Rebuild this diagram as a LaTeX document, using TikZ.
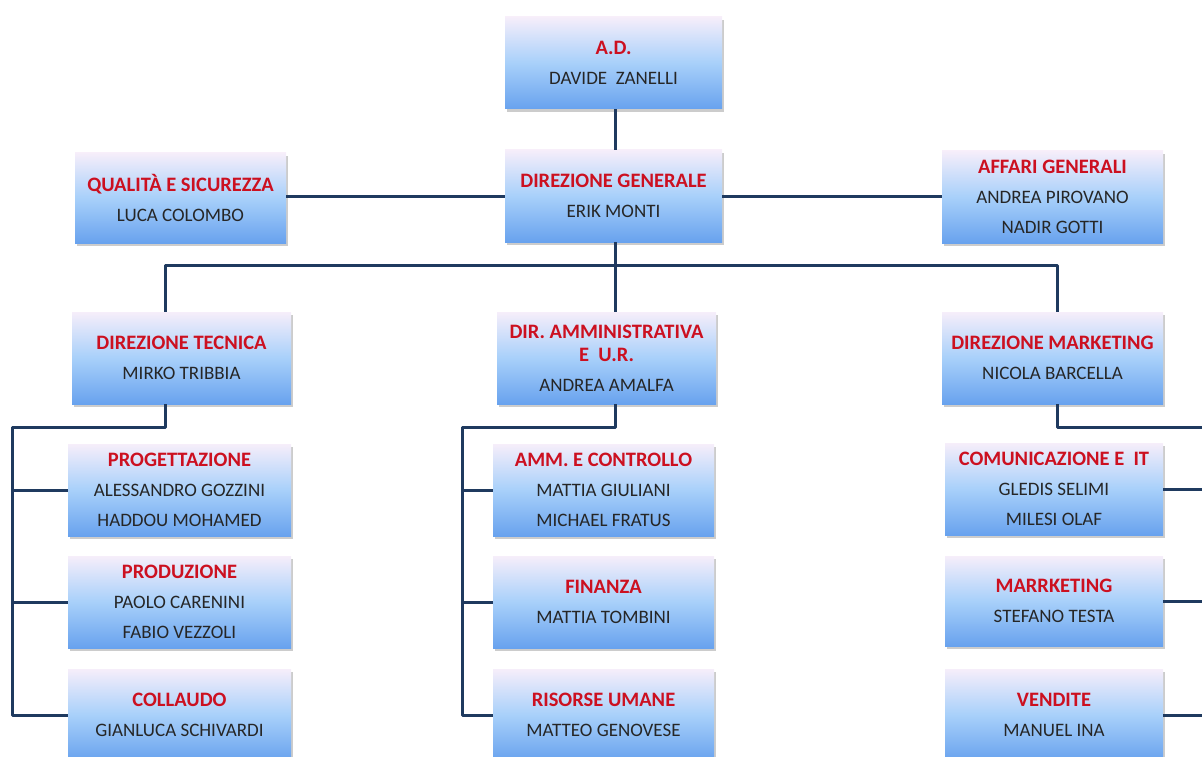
\documentclass[tikz,border=0pt]{standalone}
\usepackage{fontspec}
\setmainfont{Carlito}
\usetikzlibrary{shadows}
\definecolor{linec}{HTML}{1F3A5F}
\definecolor{titc}{HTML}{CC1020}
\definecolor{namec}{HTML}{262626}
\definecolor{topc}{HTML}{F6EEFA}
\definecolor{midc}{HTML}{A8D0FA}
\definecolor{botc}{HTML}{68A2EE}
\tikzset{
  orgbox/.style={rectangle, inner sep=0pt, top color=topc, bottom color=botc, middle color=midc,
    draw=none, align=center, text=namec,
    font=\fontsize{19}{30}\selectfont,
    drop shadow={opacity=0.4, shadow xshift=2pt, shadow yshift=-3pt}},
  conn/.style={draw=linec, line width=3pt, line join=round},
}
\newcommand{\ttl}[1]{{\color{titc}\bfseries\fontsize{20.5}{30}\selectfont #1}}
\begin{document}
\begin{tikzpicture}[x=1pt,y=-1pt]
\useasboundingbox (0,0) rectangle (1202,757);
\clip (0,0) rectangle (1202,757);
% coordinates for connectors
\coordinate (bus) at (615,265);
\coordinate (b1) at (165,265);
\coordinate (b3) at (1057,265);
\coordinate (lt) at (12,427);
\coordinate (lm) at (462,427);
\coordinate (lr) at (1215,427);
% boxes
\node[orgbox, minimum width=217pt, minimum height=92pt] (AD) at (613.5,63) {\ttl{A.D.}\\DAVIDE\ \ ZANELLI};
\node[orgbox, minimum width=217pt, minimum height=92pt] (DG) at (613.5,196) {\ttl{DIREZIONE GENERALE}\\ERIK MONTI};
\node[orgbox, minimum width=211pt, minimum height=90pt] (QS) at (180.5,198) {\ttl{QUALITÀ E SICUREZZA}\\LUCA COLOMBO};
\node[orgbox, minimum width=221pt, minimum height=92pt] (AG) at (1052.5,197) {\ttl{AFFARI GENERALI}\\ANDREA PIROVANO\\NADIR GOTTI};
\node[orgbox, minimum width=219pt, minimum height=92pt] (DT) at (181.5,358) {\ttl{DIREZIONE TECNICA}\\MIRKO TRIBBIA};
\node[orgbox, minimum width=219pt, minimum height=92pt] (DA) at (606.5,358) {\ttl{DIR. AMMINISTRATIVA}\\[-7pt]\ttl{E\ \ U.R.}\\ANDREA AMALFA};
\node[orgbox, minimum width=221pt, minimum height=92pt] (DM) at (1052.5,358) {\ttl{DIREZIONE MARKETING}\\NICOLA BARCELLA};
% left column
\node[orgbox, minimum width=223pt, minimum height=92pt] (PRG) at (179.5,490) {\ttl{PROGETTAZIONE}\\ALESSANDRO GOZZINI\\HADDOU MOHAMED};
\node[orgbox, minimum width=223pt, minimum height=92pt] (PRD) at (179.5,602) {\ttl{PRODUZIONE}\\PAOLO CARENINI\\FABIO VEZZOLI};
\node[orgbox, minimum width=223pt, minimum height=92pt] (COL) at (179.5,715) {\ttl{COLLAUDO}\\GIANLUCA SCHIVARDI};
% middle column
\node[orgbox, minimum width=221pt, minimum height=92pt] (AMM) at (603.5,490) {\ttl{AMM. E CONTROLLO}\\MATTIA GIULIANI\\MICHAEL FRATUS};
\node[orgbox, minimum width=221pt, minimum height=92pt] (FIN) at (603.5,602) {\ttl{FINANZA}\\MATTIA TOMBINI};
\node[orgbox, minimum width=221pt, minimum height=92pt] (RU) at (603.5,715) {\ttl{RISORSE UMANE}\\MATTEO GENOVESE};
% right column
\node[orgbox, minimum width=218pt, minimum height=92pt] (COM) at (1054,489) {\ttl{COMUNICAZIONE E\ \ IT}\\GLEDIS SELIMI\\MILESI OLAF};
\node[orgbox, minimum width=218pt, minimum height=90pt] (MKT) at (1054,601) {\ttl{MARRKETING}\\STEFANO TESTA};
\node[orgbox, minimum width=218pt, minimum height=92pt] (VEN) at (1054,715) {\ttl{VENDITE}\\MANUEL INA};
% connectors
\draw[conn] (AD.south -| bus) -- (DG.north -| bus);
\draw[conn] (DG.west) -- (DG.west -| QS.east);
\draw[conn] (DG.east) -- (DG.east -| AG.west);
\draw[conn] (DG.south -| bus) -- (bus);
\draw[conn] (b1 |- DT.north) |- (b3) -- (b3 |- DM.north);
\draw[conn] (bus) -- (bus |- DA.north);
\draw[conn] (DT.south -| b1) |- (lt) |- (COL.west);
\draw[conn] (lt |- PRG.west) -- (PRG.west);
\draw[conn] (lt |- PRD.west) -- (PRD.west);
\draw[conn] (DA.south -| bus) |- (lm) |- (RU.west);
\draw[conn] (lm |- AMM.west) -- (AMM.west);
\draw[conn] (lm |- FIN.west) -- (FIN.west);
\draw[conn] (DM.south -| b3) |- (lr) -- (lr |- VEN.east);
\draw[conn] (COM.east) -- (COM.east -| lr);
\draw[conn] (MKT.east) -- (MKT.east -| lr);
\draw[conn] (VEN.east) -- (VEN.east -| lr);
\end{tikzpicture}
\end{document}
